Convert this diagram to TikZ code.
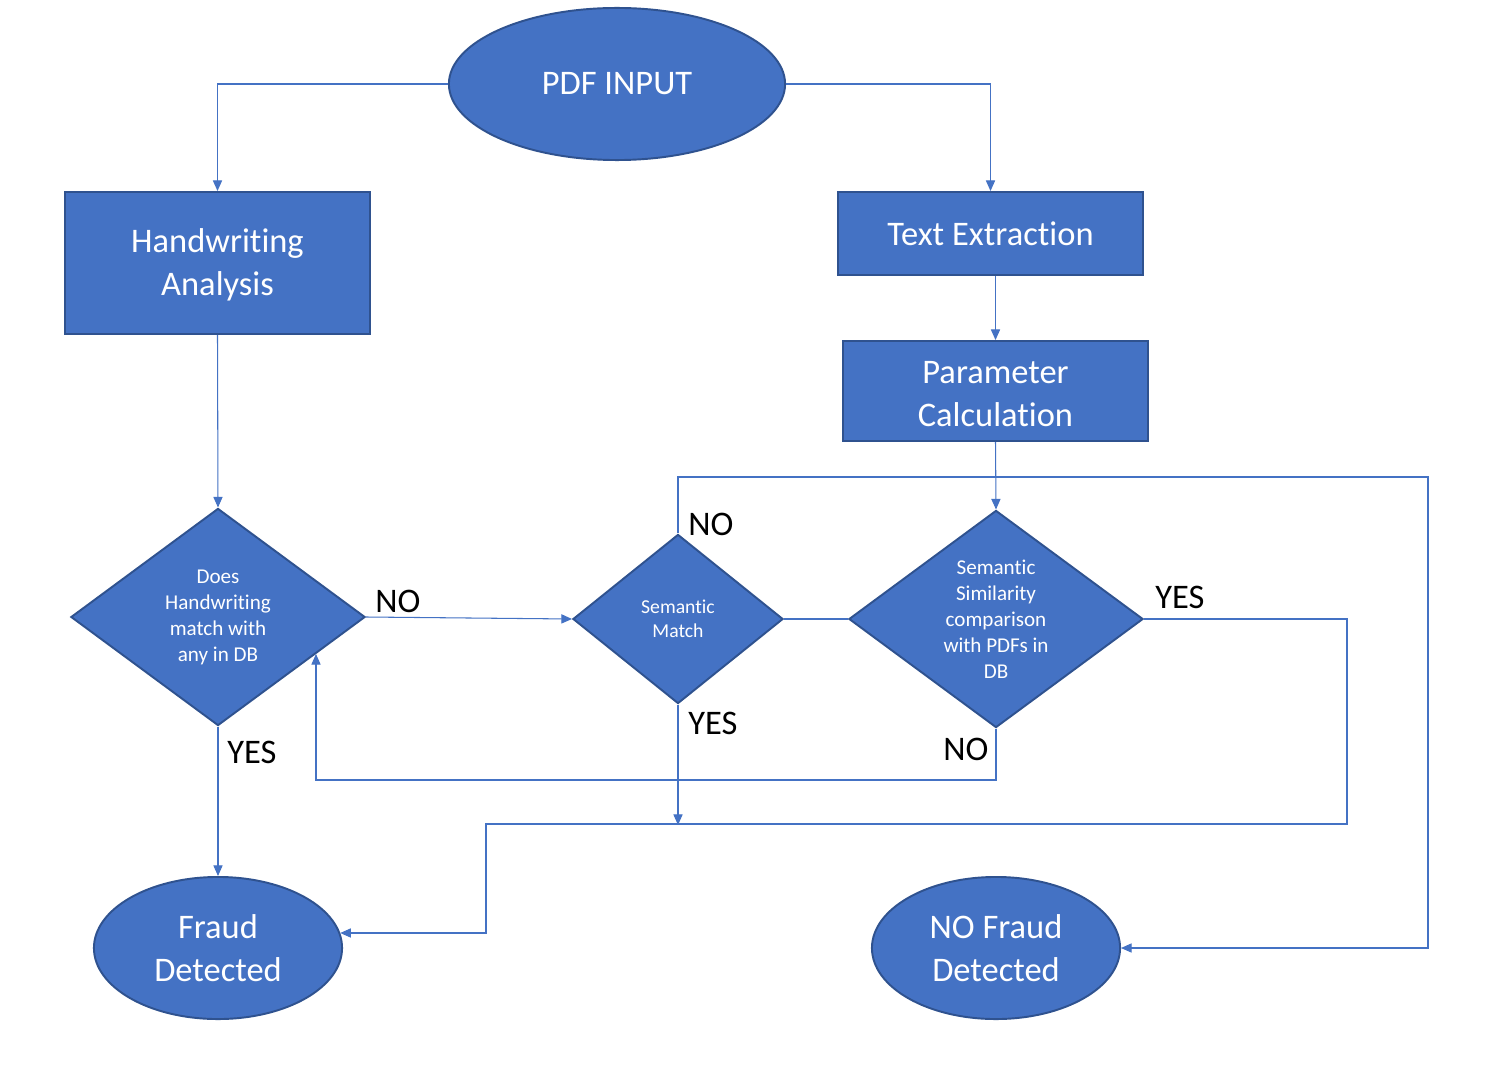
\documentclass[tikz,border=0pt]{standalone}
\usepackage{fontspec}
\setmainfont{Carlito}[RawFeature={-liga;-clig;-calt;-dlig}]
\usetikzlibrary{shapes.geometric,arrows.meta}
\definecolor{fillb}{HTML}{4472C4}
\definecolor{edgeb}{HTML}{2F528F}
\definecolor{lineb}{HTML}{4472C4}
\begin{document}
\begin{tikzpicture}[x=0.01cm,y=-0.01cm,
  shapebase/.style={fill=fillb,draw=edgeb,line width=0.55pt,text=white,align=center,inner sep=0pt},
  bigtext/.style={font=\fontsize{9.8}{12.2}\selectfont},
  smalltext/.style={font=\fontsize{6}{7.4}\selectfont},
  oval/.style={shapebase,bigtext,ellipse},
  box/.style={shapebase,bigtext,rectangle},
  decision/.style={shapebase,smalltext,diamond},
  conn/.style={draw=lineb,line width=0.3pt,-{Triangle[length=3pt,width=2.6pt]}},
  plain/.style={draw=lineb,line width=0.3pt},
  lab/.style={font=\fontsize{9.8}{12}\selectfont,text=black,inner sep=0pt}]
\useasboundingbox (0,0) rectangle (1497,1079);
\fill[white] (0,0) rectangle (1497,1079);

\node[oval,minimum width=3.36cm,minimum height=1.52cm] (pdf) at (617,84) {PDF INPUT};
\node[box,minimum width=3.05cm,minimum height=1.42cm] (hw) at (217.5,263) {\rule{0pt}{8pt}Handwriting\\Analysis};
\node[box,minimum width=3.05cm,minimum height=0.83cm] (te) at (990.5,233.5) {Text Extraction};
\node[box,minimum width=3.05cm,minimum height=1.00cm] (pc) at (995.5,391) {\rule{0pt}{8pt}Parameter\\Calculation};
\node[decision,minimum width=2.94cm,minimum height=2.17cm,aspect=1.355] (d1) at (218,617) {Does\\Handwriting\\match with\\any in DB};
\node[decision,minimum width=2.10cm,minimum height=1.69cm,aspect=1.24,font=\fontsize{5.6}{6.8}\selectfont] (sm) at (678,619) {Semantic\\Match};
\node[decision,minimum width=2.94cm,minimum height=2.17cm,aspect=1.355] (ss) at (996,619) {Semantic\\Similarity\\comparison\\with PDFs in\\DB};
\node[oval,minimum width=2.48cm,minimum height=1.42cm] (fd) at (218,948) {Fraud\\Detected};
\node[oval,minimum width=2.48cm,minimum height=1.42cm] (nfd) at (996,948) {NO Fraud\\Detected};

\coordinate (c1) at (1428,477);
\coordinate (c2) at (678,825);
\coordinate (c3) at (1347,824);
\coordinate (c4) at (486,824);
\coordinate (c5) at (316,780);
\coordinate (c6) at (316,654);

\draw[conn] (pdf.west) -| (hw.north);
\draw[conn] (pdf.east) -| (te.north);
\draw[conn] (pc.north |- te.south) -- (pc.north);
\draw[conn] (hw.south) -- (d1.north);
\draw[conn] (pc.south) -- (ss.north);
\draw[conn] (d1.east) -- (sm.west);
\draw[plain] (sm.east) -- (ss.west);
\draw[conn] (sm.north) |- (c1) |- (nfd.east);
\draw[conn] (sm.south) -- (c2);
\draw[conn] (ss.east) -| (c3) -- (c4) |- (fd.7);
\draw[conn] (ss.south) |- (c5) -- (c6);
\draw[conn] (d1.south) -- (fd.north);

\node[lab] (l1) at (398,601) {NO};
\node[lab] (l2) at (252,752) {YES};
\node[lab] (l3) at (711,524) {NO};
\node[lab] (l4) at (713,723) {YES};
\node[lab] (l5) at (1180,597) {YES};
\node[lab] (l6) at (966,749) {NO};
\end{tikzpicture}
\end{document}
